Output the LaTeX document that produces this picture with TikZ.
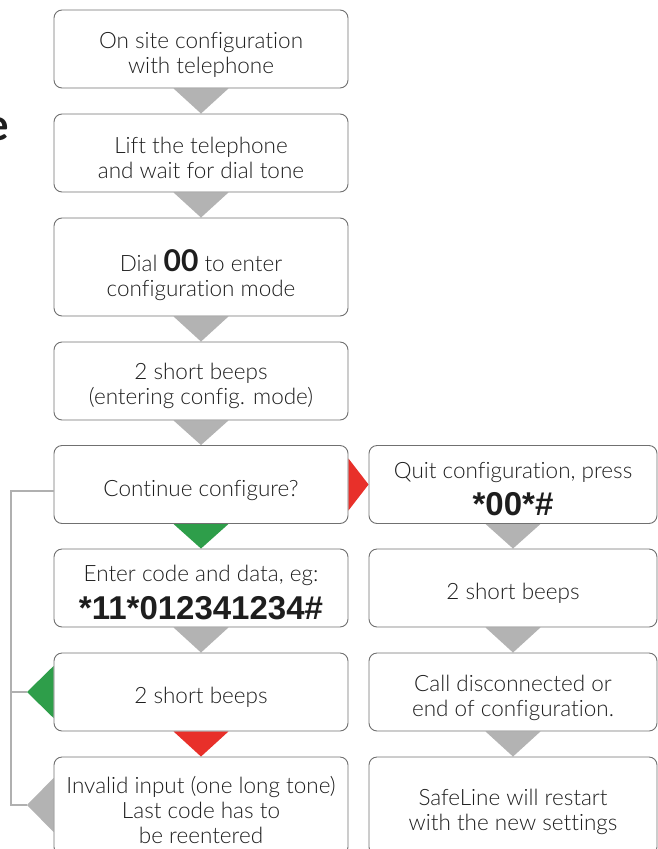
\documentclass[tikz,border=0pt]{standalone}
\usepackage{fontspec}
\setmainfont{Lato}[Ligatures={NoCommon}, UprightFont={* Light}, BoldFont={* Bold}]
\newfontfamily\codefont{Liberation Sans}
\usetikzlibrary{backgrounds}
\definecolor{boxline}{HTML}{707070}
\definecolor{arrgray}{HTML}{B3B3B3}
\definecolor{arrgreen}{HTML}{2E9E4A}
\definecolor{arrred}{HTML}{E8302A}
\definecolor{txt}{HTML}{1E1E1E}
\definecolor{connline}{HTML}{B0B0B0}
\newcommand{\codetext}[1]{{\codefont\bfseries\fontsize{33}{36}\selectfont #1}}
\begin{document}
\begin{tikzpicture}[x=1pt,y=-1pt,
  box/.style={draw=boxline, line width=0.9pt, rounded corners=8pt, fill=white, inner sep=0pt},
  lbox/.style={box, minimum width=294pt},
  rbox/.style={box, minimum width=288pt},
  lbl/.style={text=txt, align=center, inner sep=0pt, font=\fontsize{22.5}{25}\selectfont},
  conn/.style={draw=connline, line width=2pt}]
\useasboundingbox (0,0) rectangle (658,849);
\clip (0,0) rectangle (658,849);
% partial heading letter
\node[anchor=base east, inner sep=0pt, text=txt, font=\bfseries\fontsize{44}{44}\selectfont] (etitle) at (9,140) {e};
% left column boxes
\node[lbox, minimum height=78pt] (b1) at (201,49) {};
\node[lbox, minimum height=78pt] (b2) at (201,153) {};
\node[lbox, minimum height=98pt] (b3) at (201,267) {};
\node[lbox, minimum height=78pt] (b4) at (201,381) {};
\node[lbox, minimum height=78pt] (b5) at (201,484.5) {};
\node[lbox, minimum height=78pt] (b6) at (201,588) {};
\node[lbox, minimum height=78pt] (b7) at (201,692) {};
\node[lbox, minimum height=98pt] (b8) at (201,806) {};
% right column boxes
\node[rbox, minimum height=78pt] (r1) at (513,484.5) {};
\node[rbox, minimum height=78pt] (r2) at (513,588) {};
\node[rbox, minimum height=78pt] (r3) at (513,692) {};
\node[rbox, minimum height=98pt] (r4) at (513,806) {};
% texts
\node[lbl] (t1) at ([yshift=-5.5pt]b1.center) {On site configuration\\with telephone};
\node[lbl] (t2) at ([yshift=-4.5pt]b2.center) {Lift the telephone\\and wait for dial tone};
\node[lbl] (t3) at ([yshift=-8pt]b3.center) {Dial {\bfseries\fontsize{30}{30}\selectfont 00} to enter\\configuration mode};
\node[lbl] (t4) at ([yshift=-5pt]b4.center) {2 short beeps\\(entering config. mode)};
\node[lbl] (t5) at ([yshift=-6.5pt]b5.center) {Continue configure?};
\node[lbl] (t6) at ([yshift=-4.5pt]b6.center) {Enter code and data, eg:\\[9pt]\codetext{*11*012341234\#}};
\node[lbl] (t7) at ([yshift=-5pt]b7.center) {2 short beeps};
\node[lbl] (t8) at ([yshift=-3.5pt]b8.center) {Invalid input (one long tone)\\Last code has to\\be reentered};
\node[lbl] (u1) at ([yshift=-4.5pt]r1.center) {Quit configuration, press\\[9pt]\codetext{*00*\#}};
\node[lbl] (u2) at ([yshift=-5pt]r2.center) {2 short beeps};
\node[lbl] (u3) at ([yshift=-5.5pt]r3.center) {Call disconnected or\\end of configuration.};
\node[lbl] (u4) at ([yshift=-5.5pt]r4.center) {SafeLine will restart\\with the new settings};
% arrows (triangles)
\begin{scope}[on background layer]
\fill[arrgray] ([xshift=-27.5pt]b1.south) -- ([xshift=27.5pt]b1.south) -- (b2.north) -- cycle;
\fill[arrgray] ([xshift=-27.5pt]b2.south) -- ([xshift=27.5pt]b2.south) -- (b3.north) -- cycle;
\fill[arrgray] ([xshift=-27.5pt]b3.south) -- ([xshift=27.5pt]b3.south) -- (b4.north) -- cycle;
\fill[arrgray] ([xshift=-27.5pt]b4.south) -- ([xshift=27.5pt]b4.south) -- (b5.north) -- cycle;
\fill[arrgreen] ([xshift=-27.5pt]b5.south) -- ([xshift=27.5pt]b5.south) -- (b6.north) -- cycle;
\fill[arrgray] ([xshift=-27.5pt]b6.south) -- ([xshift=27.5pt]b6.south) -- (b7.north) -- cycle;
\fill[arrred] ([xshift=-27.5pt]b7.south) -- ([xshift=27.5pt]b7.south) -- (b8.north) -- cycle;
\fill[arrgray] ([xshift=-27.5pt]r1.south) -- ([xshift=27.5pt]r1.south) -- (r2.north) -- cycle;
\fill[arrgray] ([xshift=-27.5pt]r2.south) -- ([xshift=27.5pt]r2.south) -- (r3.north) -- cycle;
\fill[arrgray] ([xshift=-27.5pt]r3.south) -- ([xshift=27.5pt]r3.south) -- (r4.north) -- cycle;
\fill[arrred] ([yshift=26pt]b5.east) -- ([yshift=-26pt]b5.east) -- (r1.west) -- cycle;
\coordinate (gA) at (27,692);
\coordinate (yA) at (27,805);
\fill[arrgreen] ([yshift=26pt]b7.west) -- ([yshift=-26pt]b7.west) -- (gA) -- cycle;
\fill[arrgray] (b8.west |- 778,778) -- (b8.west |- 832,832) -- (yA) -- cycle;
\end{scope}
% loop-back connector
\coordinate (lc) at (11,491);
\coordinate (lg) at (11,692);
\draw[conn] (b5.west |- lc) -- (lc) |- (yA);
\draw[conn] (lg) -- (gA);
\end{tikzpicture}
\end{document}
